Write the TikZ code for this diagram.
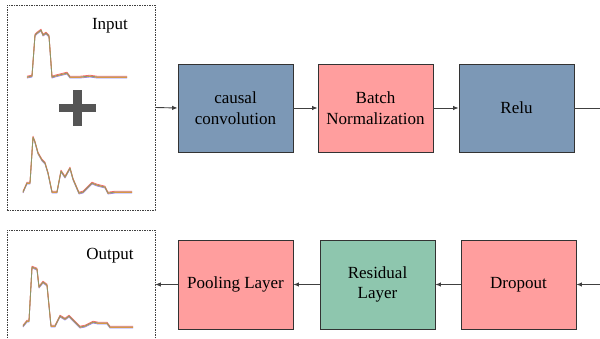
\documentclass[tikz,border=0pt]{standalone}
\usepackage{fontspec}
\setmainfont{Liberation Serif}
\usepackage{tikz}
\usetikzlibrary{arrows.meta}

\definecolor{convblue}{RGB}{124,152,182}
\definecolor{normpink}{RGB}{255,158,158}
\definecolor{resgreen}{RGB}{142,198,174}
\definecolor{plusgray}{RGB}{85,85,85}
\definecolor{traceolive}{RGB}{140,150,105}

\tikzset{
  block/.style={draw=black!80, line width=0.8pt, minimum width=115pt, minimum height=88pt,
    align=center, inner sep=2pt, font=\fontsize{17}{20.5}\selectfont},
  panel/.style={draw=black!75, line width=0.7pt, dash pattern=on 1.5pt off 1pt,
    minimum width=148pt, inner sep=0pt},
  flow/.style={draw=black!75, line width=0.9pt, -{Latex[length=5.5pt,width=4.5pt]}},
  trace/.style={line width=0.8pt, line join=round},
  tag/.style={font=\fontsize{17}{20.5}\selectfont},
}

\begin{document}
\begin{tikzpicture}[x=1pt,y=-1pt]
\useasboundingbox (0,0) rectangle (600,338);

% input and output panels
\node[panel, minimum height=205pt] (inbox) at (81,107.5) {};
\node[panel, minimum height=210pt] (outbox) at (81,335) {};
\node[tag] (intag) at (110,26) {Input};
\node[tag] (outtag) at (110,256) {Output};

% upper row
\node[block, fill=convblue] (conv) at (235.5,108) {causal\\convolution};
\node[block, fill=normpink] (norm) at (375.5,108) {Batch\\Normalization};
\node[block, fill=convblue] (relu) at (516.5,108) {Relu};

% lower row
\node[block, fill=normpink, minimum height=89pt] (pool) at (235.5,284.5) {Pooling Layer};
\node[block, fill=resgreen, minimum height=89pt] (resid) at (377.5,284.5) {Residual\\Layer};
\node[block, fill=normpink, minimum height=89pt] (drop) at (518.5,284.5) {Dropout};

\coordinate (topexit) at (600,108);
\coordinate (botentry) at (600,284.5);

\draw[flow] (inbox.east) -- (conv.west);
\draw[flow] (conv) -- (norm);
\draw[flow] (norm) -- (relu);
\draw[draw=black!75, line width=0.9pt] (relu.east) -- (topexit);
\draw[flow] (botentry) -- (drop.east);
\draw[flow] (drop) -- (resid);
\draw[flow] (resid) -- (pool);
\draw[flow] (pool.west) -- (pool.west -| outbox.east);

% plus sign
\fill[plusgray] (59,103.5) rectangle (96,111.5);
\fill[plusgray] (73,90) rectangle (81.5,126);

% signals
\foreach \c/\d in {blue!50/-1, red!60/0.8, orange!80/-0.4, traceolive/0}
  \draw[trace, \c, yshift=\d pt] plot coordinates {(27,77) (32,76) (35,35) (37,33) (41,30)
    (43,35) (46,33) (49,36) (52,77) (55,76) (67,73) (70,77) (80,77) (90,76) (97,77) (127,77)};
\foreach \c/\d in {blue!50/-1, red!60/0.8, orange!80/-0.4, traceolive/0}
  \draw[trace, \c, yshift=\d pt] plot coordinates {(23,192) (27,183) (30,183) (33,137) (35,142)
    (38,153) (42,160) (45,163) (48,173) (52,192) (57,192) (61,171) (65,177) (70,168) (73,179)
    (79,193) (83,192) (92,183) (97,185) (105,187) (108,193) (115,192) (132,192)};
\foreach \c/\d in {blue!50/-1, red!60/0.8, orange!80/-0.4, traceolive/0}
  \draw[trace, \c, yshift=\d pt] plot coordinates {(23,326) (27,321) (29,321) (32,267) (37,269)
    (39,287) (43,282) (47,285) (51,326) (55,326) (60,316) (65,319) (69,316) (73,320) (80,327)
    (85,326) (93,322) (98,323) (107,323) (110,327) (133,327)};
\end{tikzpicture}
\end{document}
